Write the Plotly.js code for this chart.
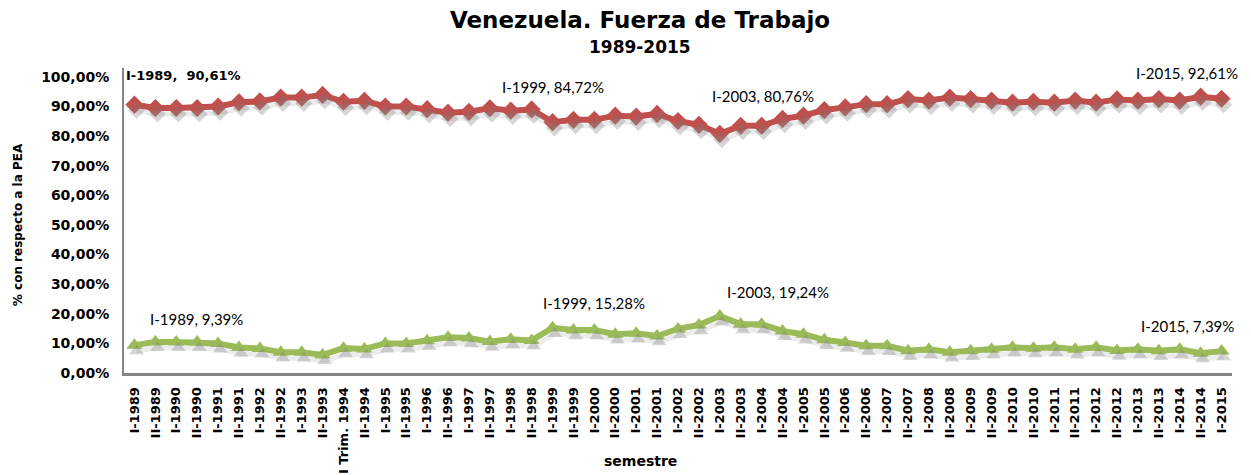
<!DOCTYPE html>
<html>
<head>
<meta charset="utf-8">
<script src="https://cdn.plot.ly/plotly-3.0.1.min.js"></script>
<style>html,body{margin:0;padding:0;background:#fff;}#chart{width:1251px;height:475px;}</style>
</head>
<body>
<div id="chart"></div>
<script>
var categories = ["I-1989","II-1989","I-1990","II-1990","I-1991","II-1991","I-1992","II-1992","I-1993","II-1993",
  "I Trim. 1994","II-1994","I-1995","II-1995","I-1996","II-1996","I-1997","II-1997","I-1998","II-1998",
  "I-1999","II-1999","I-2000","II-2000","I-2001","II-2001","I-2002","II-2002","I-2003","II-2003",
  "I-2004","II-2004","I-2005","II-2005","I-2006","II-2006","I-2007","II-2007","I-2008","II-2008",
  "I-2009","II-2009","I-2010","II-2010","I-2011","II-2011","I-2012","II-2012","I-2013","II-2013",
  "I-2014","II-2014","I-2015"];
var ocupados = [90.61,89.5,89.5,89.5,90.0,91.4,91.7,93.0,93.0,93.9,
  91.6,91.9,90.0,90.0,89.1,87.9,88.2,89.4,88.6,89.0,
  84.72,85.5,85.5,86.9,86.6,87.5,85.1,83.8,80.76,83.5,
  83.5,85.8,86.9,88.8,89.7,90.8,90.8,92.5,92.0,93.0,
  92.5,92.0,91.3,91.6,91.3,92.0,91.3,92.4,92.0,92.5,
  92.0,93.3,92.61];
var desocupados = [9.39,10.5,10.5,10.5,10.0,8.6,8.3,7.0,7.0,6.1,
  8.4,8.1,10.0,10.0,10.9,12.1,11.8,10.6,11.4,11.0,
  15.28,14.5,14.5,13.1,13.4,12.5,14.9,16.2,19.24,16.5,
  16.5,14.2,13.1,11.2,10.3,9.2,9.2,7.5,8.0,7.0,
  7.5,8.0,8.7,8.4,8.7,8.0,8.7,7.6,8.0,7.5,
  8.0,6.7,7.39];
var yTickVals = [0,10,20,30,40,50,60,70,80,90,100];
var labelIdx = [0,20,28,52];
var titleText = "Venezuela. Fuerza de Trabajo";
var subtitleText = "1989-2015";
var yTitleText = "% con respecto a la PEA";
var xTitleText = "semestre";

function pct(v){ return v.toFixed(2).replace('.', ',') + '%'; }
var yTickText = yTickVals.map(pct);

var red = '#C0504D', green = '#9BBB59';
var shadowCol = 'rgba(120,120,120,0.3)';

var traces = [
  {x: categories, y: ocupados, xaxis:'x2', yaxis:'y2', mode:'lines+markers', type:'scatter', hoverinfo:'skip',
   line:{color:'rgba(160,160,160,0.2)', width:5}, marker:{symbol:'diamond', size:13, color:shadowCol}},
  {x: categories, y: desocupados, xaxis:'x2', yaxis:'y2', mode:'lines+markers', type:'scatter', hoverinfo:'skip',
   line:{color:'rgba(160,160,160,0.2)', width:5}, marker:{symbol:'triangle-up', size:13, color:shadowCol}},
  {x: categories, y: ocupados, mode:'lines+markers', type:'scatter', name:'Ocupados',
   line:{color:red, width:6}, marker:{symbol:'diamond', size:14, color:red}},
  {x: categories, y: desocupados, mode:'lines+markers', type:'scatter', name:'Desocupados',
   line:{color:green, width:6}, marker:{symbol:'triangle-up', size:14, color:green}}
];

var labFont = {family:'Lato, "Open Sans", sans-serif', size:15, color:'#000'};
var redOff = [[-10,29,'left'],[0,35,'center'],[43,38,'center'],[-35,26,'center']];
var greenOff = [[62,26,'center'],[41,25,'center'],[58,24,'center'],[-34,25,'center']];
var annotations = [];
labelIdx.forEach(function(i,k){
  var t = categories[i] + ', ' + (k===0 ? ' ' : '') + pct(ocupados[i]);
  annotations.push({x:categories[i], y:ocupados[i], xref:'x', yref:'y', showarrow:false,
    text: k===0 ? '<b>'+t+'</b>' : t, xanchor:redOff[k][2], yanchor:'middle',
    xshift:redOff[k][0], yshift:redOff[k][1],
    font: k===0 ? {family:'"DejaVu Sans", sans-serif', size:13, color:'#000'} : labFont});
  annotations.push({x:categories[i], y:desocupados[i], xref:'x', yref:'y', showarrow:false,
    text: categories[i] + ', ' + pct(desocupados[i]), xanchor:greenOff[k][2], yanchor:'middle',
    xshift:greenOff[k][0], yshift:greenOff[k][1], font:labFont});
});
var plotTop = 68, plotBot = 372.7, plotH = plotBot - plotTop;
function py(px){ return (plotBot - px)/plotH; }
function px(x){ return (x - 124)/1108; }
annotations.push({xref:'paper', yref:'paper', x:px(640), y:py(47), showarrow:false, xanchor:'center', yanchor:'middle',
  text:'<b>'+subtitleText+'</b>', font:{family:'"DejaVu Sans", sans-serif', size:17, color:'#000'}});
annotations.push({xref:'paper', yref:'paper', x:px(18), y:py(225), showarrow:false, xanchor:'center', yanchor:'middle',
  textangle:-90, text:'<b>'+yTitleText+'</b>', font:{family:'"DejaVu Sans", sans-serif', size:12, color:'#000'}});
annotations.push({xref:'paper', yref:'paper', x:px(640), y:py(461), showarrow:false, xanchor:'center', yanchor:'middle',
  text:'<b>'+xTitleText+'</b>', font:{family:'"DejaVu Sans", sans-serif', size:14, color:'#000'}});

var layout = {
  width:1251, height:475,
  margin:{l:124, r:19, t:68, b:102.3},
  paper_bgcolor:'#fff', plot_bgcolor:'#fff',
  showlegend:false,
  title:{text:'<b>'+titleText+'</b>', x:640/1251, xanchor:'center', y:1-20/475, yanchor:'middle',
    font:{family:'"DejaVu Sans", sans-serif', size:23, color:'#000'}},
  xaxis:{type:'category', range:[-0.5,52.5], showgrid:false, zeroline:false, showline:true,
    linecolor:'#868686', linewidth:3, ticks:'', tickangle:-90, ticklabelstandoff:6,
    tickfont:{family:'"DejaVu Sans", sans-serif', size:13, color:'#000', weight:'bold'}},
  yaxis:{range:[0,103], showgrid:false, zeroline:false, showline:true, linecolor:'#868686', linewidth:2,
    ticks:'', tickvals:yTickVals, ticktext:yTickText, ticklabelstandoff:10,
    tickfont:{family:'"DejaVu Sans", sans-serif', size:14, color:'#000', weight:'bold'}},
  xaxis2:{type:'category', overlaying:'x', range:[-0.6,52.4], visible:false},
  yaxis2:{overlaying:'y', range:[2,105], visible:false},
  annotations:annotations
};
Plotly.newPlot('chart', traces, layout, {displayModeBar:false, staticPlot:true});
</script>
</body>
</html>
